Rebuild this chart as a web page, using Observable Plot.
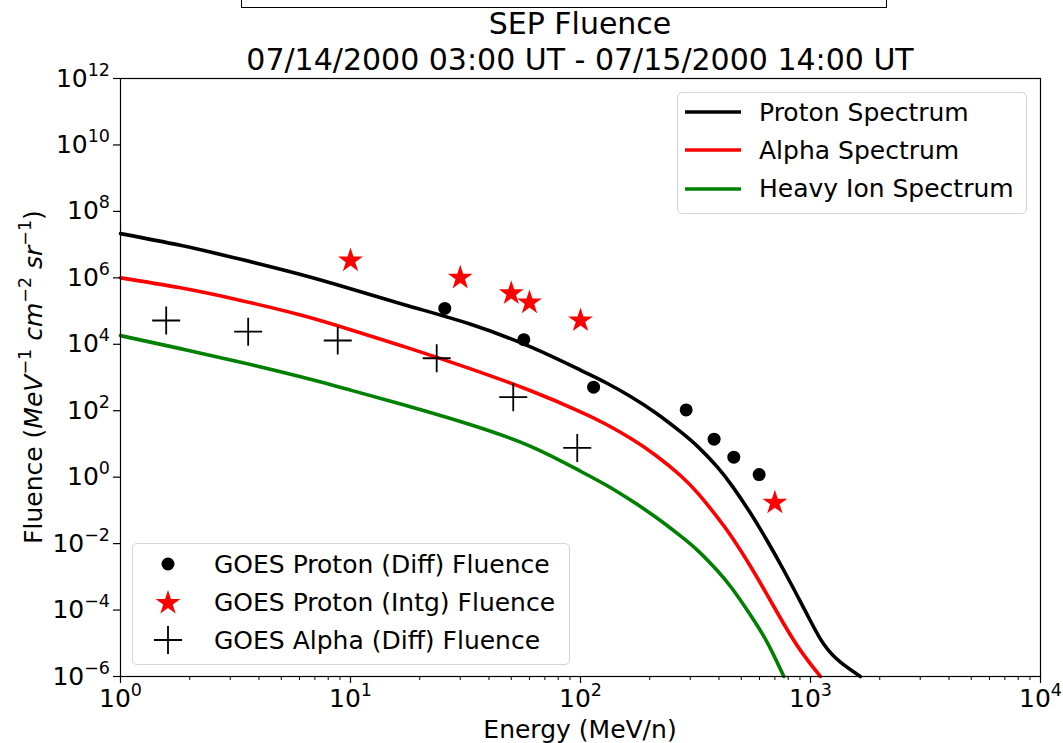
<!DOCTYPE html>
<html>
<head>
<meta charset="utf-8">
<script src="https://cdn.jsdelivr.net/npm/d3@7"></script>
<script src="https://cdn.jsdelivr.net/npm/@observablehq/plot@0.6"></script>
<style>
  body { margin: 0; background: #fff; font-family: "DejaVu Sans", sans-serif; }
  #wrap { position: relative; width: 1063px; height: 743px; overflow: hidden; background: #fff; }
  #wrap svg.plot { position: absolute; left: 0; top: 0; }
  .legend { position: absolute; border: 1.3px solid #d4d4d4; border-radius: 5px; background: rgba(255,255,255,0.8); box-sizing: border-box; }
  .item { position: absolute; height: 30px; display: flex; align-items: center; font-size: 25px; white-space: nowrap; color: #000; }
  .topbox { position: absolute; left: 241px; top: -30px; width: 646px; height: 38px; border: 1.6px solid #000; box-sizing: border-box; }
</style>
</head>
<body>
<div id="wrap"><div class="topbox"></div></div>
<script>
// ---------------- data ----------------
// model spectra (energy in MeV/n, fluence in MeV^-1 cm^-2 sr^-1)
const protonSpecE = [1, 1.82, 3.33, 6.07, 10, 18.2, 33.3, 60.7, 100, 128.5, 165, 212, 272, 327, 393, 457, 548, 649, 766, 906, 1000, 1143, 1349, 1648];
const protonSpecF = [2.14e7, 9.5e6, 3.6e6, 1.26e6, 4.7e5, 1.38e5, 4.0e4, 8.3e3, 1.66e3, 708, 269, 87, 23.4, 7.76, 2.04, 0.537, 0.083, 0.012, 1.55e-3, 1.74e-4, 4.68e-5, 9.3e-6, 2.69e-6, 1.0e-6];

const alphaSpecE = [1, 1.82, 3.33, 6.07, 10, 18.2, 33.3, 60.7, 100, 128.5, 165, 212, 272, 327, 393, 457, 548, 649, 766, 906, 1069, 1104];
const alphaSpecF = [1.0e6, 5.0e5, 2.09e5, 7.6e4, 2.75e4, 7.4e3, 1.82e3, 398, 93, 39.8, 14.8, 4.57, 1.12, 0.302, 0.063, 0.0151, 2.09e-3, 2.82e-4, 3.8e-5, 6.0e-6, 1.32e-6, 1.0e-6];

const heavySpecE = [1, 1.82, 3.33, 6.07, 10, 18.2, 33.3, 60.7, 100, 128.5, 165, 212, 272, 327, 393, 457, 548, 649, 766];
const heavySpecF = [1.82e4, 7.4e3, 2.88e3, 1.05e3, 417, 132, 38, 8.5, 1.51, 0.589, 0.204, 0.063, 0.017, 5.75e-3, 1.55e-3, 4.37e-4, 7.1e-5, 1.05e-5, 1.0e-6];

// GOES measurements
const goesDiffE = [25.7, 56.7, 114, 288, 381, 464, 598];
const goesDiffF = [1.2e5, 1.38e4, 510, 106, 13.9, 4.0, 1.2];

const goesIntgE = [10, 30, 50, 60, 100, 700];
const goesIntgF = [3.3e6, 1.0e6, 3.4e5, 1.8e5, 5.2e4, 0.17];

const goesAlphaE = [1.58, 3.59, 8.8, 23.7, 51, 96.8];
const goesAlphaF = [5.2e4, 2.4e4, 1.3e4, 3.8e3, 255, 7.6];

// axes ticks and text
const xMajorTicks = [1, 10, 100, 1000, 10000];
const xMinorTicks = [2,3,4,5,6,7,8,9,20,30,40,50,60,70,80,90,200,300,400,500,600,700,800,900,2000,3000,4000,5000,6000,7000,8000,9000];
const yMajorTicks = [1e-6, 1e-4, 1e-2, 1, 1e2, 1e4, 1e6, 1e8, 1e10, 1e12];
const titleLines = ["SEP Fluence", "07/14/2000 03:00 UT - 07/15/2000 14:00 UT"];
const xLabel = "Energy (MeV/n)";
const spectrumNames = ["Proton Spectrum", "Alpha Spectrum", "Heavy Ion Spectrum"];
const spectrumColors = ["black", "red", "green"];
const pointNames = ["GOES Proton (Diff) Fluence", "GOES Proton (Intg) Fluence", "GOES Alpha (Diff) Fluence"];

// ---------------- build tables ----------------
const zip = (E, F) => E.map((e, i) => ({E: e, F: F[i]}));
const proton = zip(protonSpecE, protonSpecF);
const alpha = zip(alphaSpecE, alphaSpecF);
const heavy = zip(heavySpecE, heavySpecF);
const goesDiff = zip(goesDiffE, goesDiffF);
const goesIntg = zip(goesIntgE, goesIntgF);
const goesAlpha = zip(goesAlphaE, goesAlphaF);

// thin stroked "+" marker (matplotlib style)
const plusSymbol = {
  draw(ctx, size) {
    const r = Math.sqrt(size / Math.PI);
    ctx.moveTo(-r, 0); ctx.lineTo(r, 0);
    ctx.moveTo(0, -r); ctx.lineTo(0, r);
  }
};

const pow10 = d => "10^" + String(Math.round(Math.log10(d))).replace("-", "\u2212");

const chart = Plot.plot({
  width: 1063,
  height: 743,
  marginLeft: 120,
  marginRight: 23,
  marginTop: 78,
  marginBottom: 67,
  style: {fontFamily: "'DejaVu Sans', sans-serif", fontSize: "25px", background: "transparent", color: "black", overflow: "visible"},
  x: {type: "log", domain: [1, 1e4]},
  y: {type: "log", domain: [1e-6, 1e12]},
  marks: [
    Plot.line(proton, {x: "E", y: "F", stroke: spectrumColors[0], strokeWidth: 3.6, curve: "natural"}),
    Plot.line(alpha, {x: "E", y: "F", stroke: spectrumColors[1], strokeWidth: 3.6, curve: "natural"}),
    Plot.line(heavy, {x: "E", y: "F", stroke: spectrumColors[2], strokeWidth: 3.6, curve: "natural"}),
    Plot.dot(goesDiff, {x: "E", y: "F", r: 6.5, fill: "black", stroke: "none"}),
    Plot.dot(goesIntg, {x: "E", y: "F", symbol: "star", r: 7.8, fill: "red", stroke: "none"}),
    Plot.dot(goesAlpha, {x: "E", y: "F", symbol: plusSymbol, r: 14, fill: "none", stroke: "black", strokeWidth: 1.8}),
    Plot.frame({stroke: "black", strokeWidth: 1.2}),
    Plot.axisX(xMajorTicks, {anchor: "bottom", tickSize: 7, tickPadding: 5.5, tickFormat: pow10, label: null, strokeWidth: 1.2}),
    Plot.axisX(xMinorTicks, {anchor: "bottom", tickSize: 4, tickFormat: () => "", label: null, strokeWidth: 1}),
    Plot.axisY(yMajorTicks, {anchor: "left", tickSize: 7, tickPadding: 3.5, tickFormat: pow10, label: null, strokeWidth: 1.2})
  ]
});
chart.classList.add("plot");

const svg = d3.select(chart);
// superscript exponents in tick labels
svg.selectAll("text").each(function() {
  const m = this.textContent.match(/^10\^(.+)$/);
  if (!m) return;
  const t = d3.select(this);
  this.textContent = "";
  t.append("tspan").text("10");
  t.append("tspan").attr("dy", -11).attr("font-size", "17.5px").text(m[1]);
});

// title
const tg = svg.append("g").attr("font-size", "30px").attr("text-anchor", "middle").attr("fill", "black");
tg.append("text").attr("x", 580).attr("y", 34).text(titleLines[0]);
tg.append("text").attr("x", 580).attr("y", 70).text(titleLines[1]);

// x label
svg.append("text").attr("x", 580).attr("y", 738).attr("text-anchor", "middle").attr("font-size", "25px").text(xLabel);

// y label with math
const yl = svg.append("text").attr("transform", "translate(42,377) rotate(-90)").attr("text-anchor", "middle").attr("font-size", "25px");
const supParts = [["MeV", "\u22121"], ["cm", "\u22122"], ["sr", "\u22121"]];
yl.append("tspan").text("Fluence (");
supParts.forEach(([base, ex], i) => {
  yl.append("tspan").attr("font-style", "italic").attr("dy", i === 0 ? 0 : 11).text((i === 0 ? "" : " ") + base);
  yl.append("tspan").attr("font-size", "17.5px").attr("dy", -11).text(ex);
});
yl.append("tspan").attr("dy", 11).text(")");

const wrap = document.getElementById("wrap");
wrap.appendChild(chart);

// ---------------- legends ----------------
function addBox(left, top, w, h) {
  const b = document.createElement("div");
  b.className = "legend";
  Object.assign(b.style, {left: left + "px", top: top + "px", width: w + "px", height: h + "px"});
  wrap.appendChild(b);
}
function addItem(left, cy, swatchW, swatchSvg, gap, label) {
  const it = document.createElement("div");
  it.className = "item";
  it.style.left = left + "px";
  it.style.top = (cy - 15) + "px";
  it.innerHTML = `<svg width="${swatchW}" height="30" style="flex:none;overflow:visible">${swatchSvg}</svg><span style="margin-left:${gap}px">${label}</span>`;
  wrap.appendChild(it);
}

// upper-right: spectra
addBox(677, 92, 350, 122);
const specY = [112, 150, 188.5];
spectrumNames.forEach((name, i) => {
  addItem(685, specY[i], 56, `<line x1="0" x2="56" y1="15" y2="15" stroke="${spectrumColors[i]}" stroke-width="3.6"/>`, 18, name);
});

// lower-left: GOES points
addBox(132, 543, 438, 122);
const ptY = [564, 602.5, 640];
const starPath = d3.symbol(d3.symbolStar, Math.PI * 7.8 * 7.8)();
const swatches = [
  `<circle cx="22" cy="15" r="6.5" fill="black"/>`,
  `<path transform="translate(22,15)" d="${starPath}" fill="red"/>`,
  `<path d="M8,15H36M22,1V29" stroke="black" stroke-width="1.8" fill="none"/>`
];
pointNames.forEach((name, i) => {
  addItem(146, ptY[i], 44, swatches[i], 24, name);
});
</script>
</body>
</html>
